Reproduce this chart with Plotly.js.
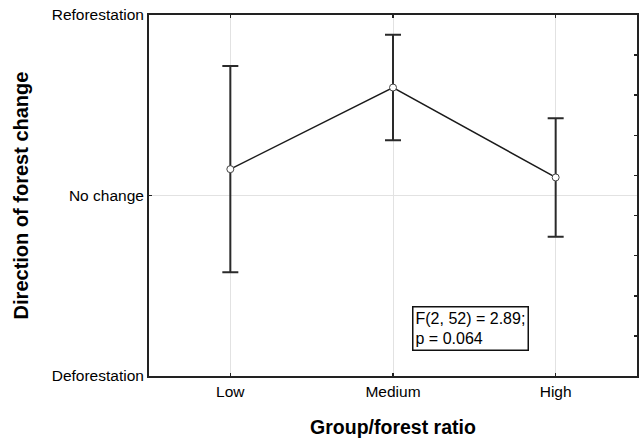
<!DOCTYPE html>
<html>
<head>
<meta charset="utf-8">
<script src="https://cdn.plot.ly/plotly-3.0.1.min.js"></script>
<style>html,body{margin:0;padding:0;background:#fff;}#chart{width:641px;height:443px;}</style>
</head>
<body>
<div id="chart"></div>
<script>
const categories = ["Low", "Medium", "High"];
const means = [0.146, 0.598, 0.100];
const errors = [0.571, 0.292, 0.328];
const yTickValues = [-1, 0, 1];
const yTickLabels = ["Deforestation", "No change", "Reforestation"];
const statText = "F(2, 52) = 2.89;<br>p = 0.064";

const font = "Liberation Sans, Arial, sans-serif";

const trace = {
  x: categories.map((c, i) => i),
  y: means,
  type: "scatter",
  mode: "lines+markers",
  line: {color: "#1a1a1a", width: 1.5},
  marker: {symbol: "circle", size: 7, color: "#ffffff", line: {color: "#444", width: 1}},
  error_y: {type: "data", array: errors, symmetric: true, color: "#2a2a2a", thickness: 2, width: 8},
  showlegend: false,
  hoverinfo: "skip"
};

// dummy trace for the right-side minor tick axis
const rightTrace = {x: [0], y: [0], yaxis: "y2", mode: "markers", marker: {opacity: 0}, showlegend: false, hoverinfo: "skip"};

const layout = {
  width: 641, height: 443,
  margin: {l: 149, r: 4, t: 15, b: 67},
  paper_bgcolor: "#fff", plot_bgcolor: "#fff",
  font: {family: font, size: 15.5, color: "#000"},
  xaxis: {
    range: [-0.5, 2.5],
    tickvals: categories.map((c, i) => i),
    ticktext: categories,
    ticks: "inside", ticklen: 3, tickwidth: 1.5, tickcolor: "#222",
    showline: true, linecolor: "#222", linewidth: 2, mirror: "ticks",
    showgrid: true, gridcolor: "#e2e2e2", gridwidth: 1,
    zeroline: false,
    tickfont: {family: font, size: 15.5, color: "#000"},
    title: {text: "Group/forest ratio", font: {family: font, size: 19.5, color: "#000", weight: "bold"}, standoff: 22},
    automargin: false
  },
  yaxis: {
    range: [-1, 1],
    tickvals: yTickValues,
    ticktext: yTickLabels,
    ticks: "inside", ticklen: 3, tickwidth: 1.5, tickcolor: "#222",
    showline: true, linecolor: "#222", linewidth: 2, mirror: true,
    showgrid: true, gridcolor: "#e2e2e2", gridwidth: 1,
    zeroline: false,
    tickfont: {family: font, size: 15.5, color: "#000"},
    title: {text: "Direction of forest change", font: {family: font, size: 20, color: "#000", weight: "bold"}, standoff: 18},
    automargin: false
  },
  yaxis2: {
    overlaying: "y", side: "right",
    range: [0, 9], dtick: 1, tick0: 0,
    ticks: "inside", ticklen: 3, tickwidth: 1.5, tickcolor: "#222",
    showticklabels: false, showgrid: false, zeroline: false, showline: false,
    fixedrange: true
  },
  annotations: [{
    xref: "paper", yref: "paper",
    x: (412 - 149) / 488, y: (376 - 306) / 361,
    xanchor: "left", yanchor: "top",
    text: statText, align: "left", showarrow: false,
    font: {family: font, size: 16, color: "#000"},
    bordercolor: "#111", borderwidth: 1.5, borderpad: 2, bgcolor: "#fff"
  }]
};

Plotly.newPlot("chart", [trace, rightTrace], layout, {staticPlot: true, displayModeBar: false});
</script>
</body>
</html>
